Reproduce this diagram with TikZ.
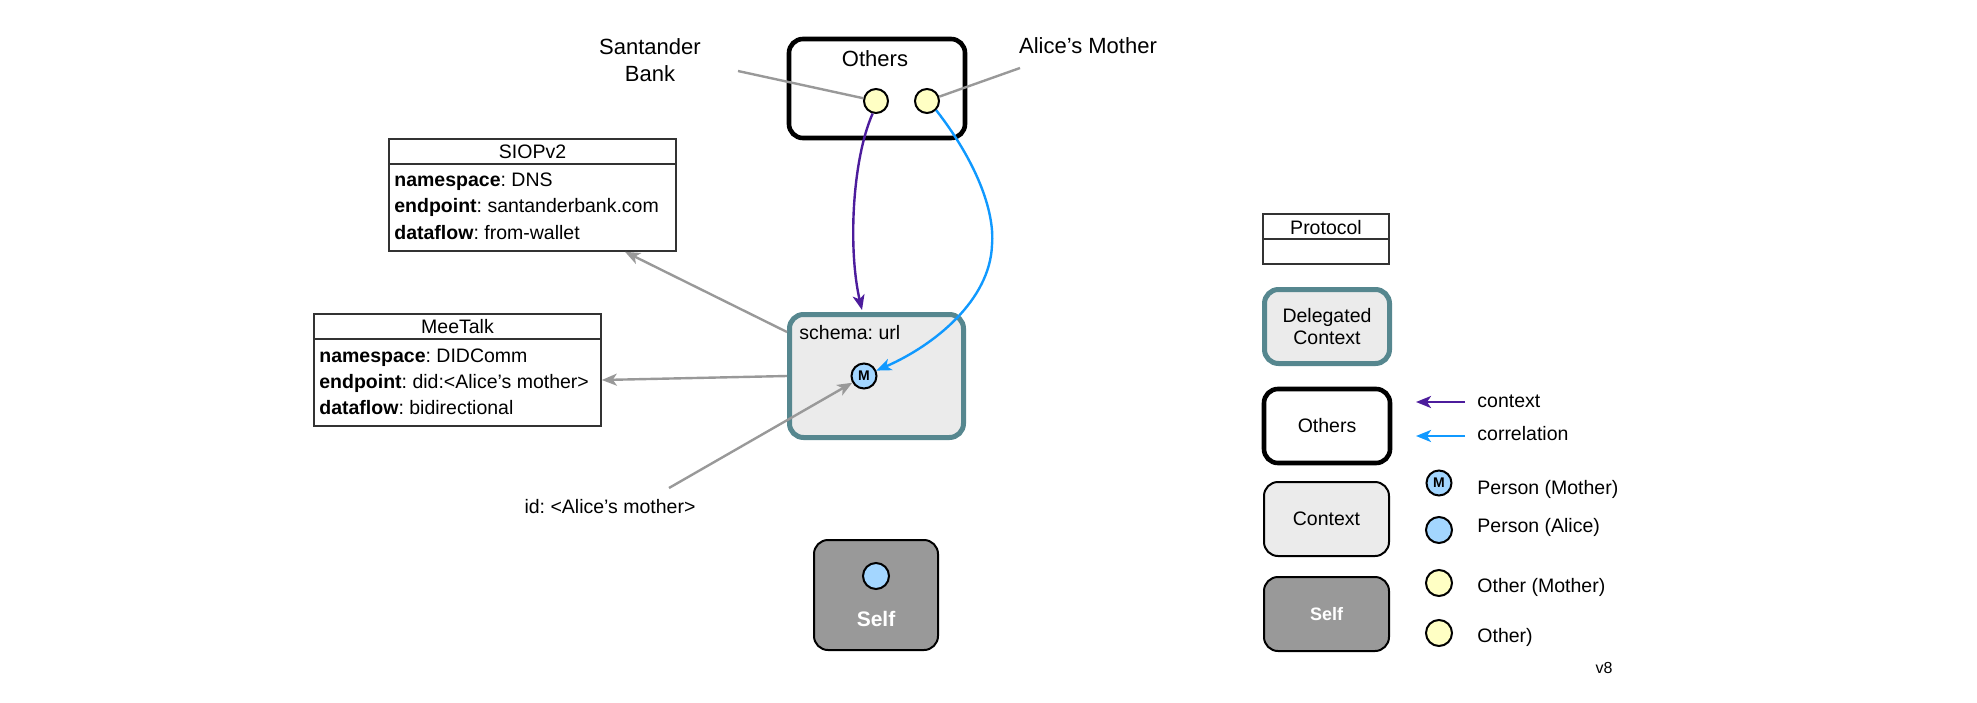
\documentclass[tikz,border=0pt]{standalone}
\usepackage{fontspec}
\setmainfont{Liberation Sans}
\usetikzlibrary{arrows.meta,calc}
\frenchspacing
\definecolor{grayln}{HTML}{999999}
\definecolor{purplec}{HTML}{4C1C9C}
\definecolor{bluec}{HTML}{1099FF}
\definecolor{yellowc}{HTML}{FFFFC4}
\definecolor{persc}{HTML}{A3D6FF}
\definecolor{tealc}{HTML}{56878F}
\definecolor{ctxfill}{HTML}{EBEBEB}
\definecolor{selffill}{HTML}{999999}
\definecolor{tblc}{HTML}{333333}
\begin{document}
\begin{tikzpicture}[x=0.5pt,y=-0.5pt,
  txt/.style={font=\fontsize{9.75}{12.5}\selectfont, inner sep=0pt},
  big/.style={font=\fontsize{11}{13.5}\selectfont, inner sep=0pt, align=center},
  othersbox/.style={draw=black, line width=2.3pt, rounded corners=7pt, fill=white},
  delegbox/.style={draw=tealc, line width=2.5pt, rounded corners=7pt, fill=ctxfill},
  ctxbox/.style={draw=black, line width=1pt, rounded corners=7pt, fill=ctxfill},
  selfbox/.style={draw=black, line width=1pt, rounded corners=7pt, fill=selffill},
  tbl/.style={draw=tblc, line width=0.8pt, fill=white, inner sep=0pt},
  tblline/.style={draw=tblc, line width=0.8pt},
  yel/.style={circle, draw=black, line width=1pt, fill=yellowc, minimum size=12pt, inner sep=0pt},
  pers/.style={circle, draw=black, line width=1pt, fill=persc, minimum size=12.5pt, inner sep=0pt},
  tip/.style={-{Stealth[length=7.5pt,width=6pt,inset=2pt]}},
  grayarr/.style={draw=grayln, line width=1.2pt, tip},
  grayline/.style={draw=grayln, line width=1.2pt},
  purplearr/.style={draw=purplec, line width=1.2pt, tip},
  bluearr/.style={draw=bluec, line width=1.2pt, tip},
]
\useasboundingbox (0,0) rectangle (1977,702);

% ---------- main diagram ----------
\node[othersbox, minimum width=88pt, minimum height=49.5pt] (others) at (877,88.5) {};
\node[big] (otherslbl) at (875,59) {Others};
\node[yel] (c1) at (876,101) {};
\node[yel] (c2) at (927,101) {};

\node[big] (sant) at (650,60.5) {Santander\\Bank};
\node[big] (alice) at (1088,46) {Alice’s Mother};
\coordinate (santl) at (738,71);
\coordinate (alicel) at (1020,68);
\draw[grayline] (santl) -- (c1);
\draw[grayline] (alicel) -- (c2);

\node[delegbox, minimum width=87pt, minimum height=61.5pt] (deleg) at (876.5,376) {};
\node[txt, anchor=west] (schema) at (799,333) {schema: url};
\node[pers] (M) at (864,376) {\fontsize{7}{7}\selectfont\bfseries M};

\node[selfbox, minimum width=62pt, minimum height=55pt] (self) at (876,595) {};
\node[pers, minimum size=13pt] (alicec) at (876,576) {};
\node[font=\fontsize{10.5}{12}\selectfont\bfseries, text=white, inner sep=0pt] (selflbl) at (876,619) {Self};

% context / correlation
\coordinate (ptip) at (862,310);
\draw[purplearr] (c1.-105) .. controls (852,160) and (848,250) .. (ptip);
\draw[bluearr] (c2.-45) .. controls (975,160) and (995,210) .. (992,245)
   .. controls (990,300) and (935,345) .. (M);

% tables
\node[tbl, minimum width=143.5pt, minimum height=56pt] (siop) at (532.5,195) {};
\draw[tblline] (siop.west |- 0,164) -- (siop.east |- 0,164);
\node[txt] (siopt) at (532.5,152) {SIOPv2};
\node[txt, anchor=west] (s1) at (394,182) {\textbf{namespace}: DNS};
\node[txt, anchor=west] (s2) at (394,207.5) {\textbf{endpoint}: santanderbank.com};
\node[txt, anchor=west] (s3) at (394,233) {\textbf{dataflow}: from-wallet};

\node[tbl, minimum width=143.5pt, minimum height=56pt] (meet) at (457.5,370) {};
\draw[tblline] (meet.west |- 0,339) -- (meet.east |- 0,339);
\node[txt] (meett) at (457.5,327) {MeeTalk};
\node[txt, anchor=west] (m1) at (319,357.5) {\textbf{namespace}: DIDComm};
\node[txt, anchor=west] (m2) at (319,383) {\textbf{endpoint}: did:<Alice’s mother>};
\node[txt, anchor=west] (m3) at (319,408) {\textbf{dataflow}: bidirectional};

\draw[grayarr] (deleg.west |- 0,332) -- (siop.south -| 625,0);
\draw[grayarr] (deleg.west) -- (meet.east |- 0,380);

\node[txt] (idl) at (610,507) {id: <Alice’s mother>};
\coordinate (idls) at (669,488);
\draw[grayarr] (idls) -- (M);

% ---------- legend ----------
\node[tbl, minimum width=63pt, minimum height=25pt] (proto) at (1326,239) {};
\draw[tblline] (proto.west |- 0,239) -- (proto.east |- 0,239);
\node[txt] (protot) at (1326,227.5) {Protocol};

\node[delegbox, minimum width=62.5pt, minimum height=37pt, align=center, font=\fontsize{9.75}{10.8}\selectfont] (ldeleg) at (1327,326.5) {Delegated\\Context};
\node[othersbox, minimum width=63pt, minimum height=37pt, font=\fontsize{9.75}{12}\selectfont] (lothers) at (1327,426) {Others};
\node[ctxbox, minimum width=62.5pt, minimum height=37pt, font=\fontsize{9.75}{12}\selectfont] (lctx) at (1326.5,519) {Context};
\node[selfbox, minimum width=62.5pt, minimum height=37pt, font=\fontsize{9}{11}\selectfont\bfseries, text=white] (lself) at (1326.5,614) {Self};

\coordinate (la1s) at (1465,402);
\coordinate (la1e) at (1416,402);
\coordinate (la2s) at (1465,436);
\coordinate (la2e) at (1416,436);
\draw[purplearr] (la1s) -- (la1e);
\draw[bluearr] (la2s) -- (la2e);
\node[txt, anchor=west] (lctxl) at (1477,401) {context};
\node[txt, anchor=west] (lcorl) at (1477,434) {correlation};

\node[pers] (lm) at (1439,483) {\fontsize{7}{7}\selectfont\bfseries M};
\node[pers, minimum size=13pt] (la) at (1439,530) {};
\node[yel, minimum size=13pt] (lom) at (1439,583) {};
\node[yel, minimum size=13pt] (lo) at (1439,633) {};
\node[txt, anchor=west] (lml) at (1477,489) {Person (Mother)};
\node[txt, anchor=west] (lal) at (1477,527) {Person (Alice)};
\node[txt, anchor=west] (loml) at (1477,587) {Other (Mother)};
\node[txt, anchor=west] (lol) at (1477,637) {Other)};

\node[font=\fontsize{8}{9}\selectfont, inner sep=0pt] (ver) at (1604,668) {v8};
\end{tikzpicture}
\end{document}
